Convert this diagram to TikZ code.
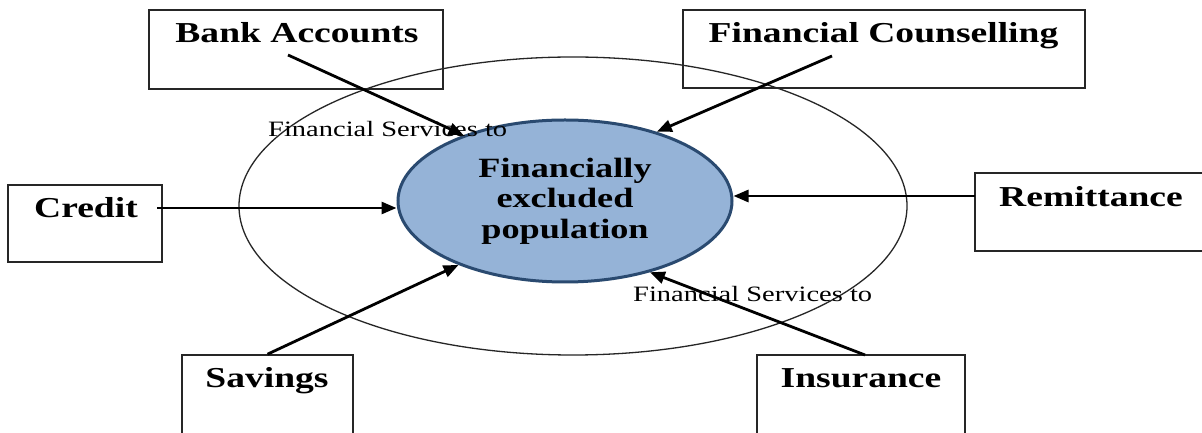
\documentclass[tikz,border=0pt]{standalone}
\usepackage{fontspec}
\setmainfont{Liberation Serif}
\usetikzlibrary{shapes.geometric,arrows.meta}
\definecolor{popfill}{HTML}{95B3D7}
\definecolor{popdraw}{HTML}{2A4A70}
\newcommand{\wstr}[1]{\scalebox{1.3}[1]{#1}}
\begin{document}
\begin{tikzpicture}[x=1bp,y=-1bp,
  box/.style={draw=black!85, line width=1.6bp, inner sep=0, rectangle},
  boxtext/.style={anchor=base, inner sep=0, font=\fontsize{29}{32}\selectfont\bfseries},
  smalllabel/.style={anchor=base west, inner sep=0, font=\fontsize{22}{24}\selectfont},
  arr/.style={line width=2.8bp, -{Triangle[length=15bp,width=12bp]}},
  outerring/.style={draw=black!85, line width=1.3bp, ellipse, inner sep=0},
  popnode/.style={ellipse, draw=popdraw, fill=popfill, line width=3bp, inner sep=0,
    align=center, font=\fontsize{28}{30.5}\selectfont\bfseries}]
\useasboundingbox (0,0) rectangle (1202,433);
\clip (0,0) rectangle (1202,433);
\fill[white] (0,0) rectangle (1202,433);

% outer ring
\node[outerring, minimum width=668bp, minimum height=298bp] (outer) at (573,206) {};

% boxes
\node[box, minimum width=294bp, minimum height=79bp] (bank) at (296,49.5) {};
\node[box, minimum width=402bp, minimum height=78bp] (fc) at (884,49) {};
\node[box, minimum width=154bp, minimum height=77bp] (credit) at (85,223.5) {};
\node[box, minimum width=240bp, minimum height=78bp] (rem) at (1095,212) {};
\node[box, minimum width=171bp, minimum height=90bp] (sav) at (267.5,400) {};
\node[box, minimum width=208bp, minimum height=90bp] (ins) at (861,400) {};

% box texts
\node[boxtext] (bankT) at (297,43) {\wstr{Bank Accounts}};
\node[boxtext] (fcT) at (883.5,43) {\wstr{Financial Counselling}};
\node[boxtext] (creditT) at (86,218) {\wstr{Credit}};
\node[boxtext] (remT) at (1091,207) {\wstr{Remittance}};
\node[boxtext] (savT) at (267,388) {\wstr{Savings}};
\node[boxtext] (insT) at (861,388) {\wstr{Insurance}};

% central node
\node[popnode, minimum width=334bp, minimum height=162bp] (pop) at (565,201)
  {\wstr{Financially}\\\wstr{excluded}\\\wstr{population}};

% labels
\node[smalllabel] (lab1) at (268,137) {\wstr{Financial Services to}};
\node[smalllabel] (lab2) at (633,302) {\wstr{Financial Services to}};

% connector start points
\coordinate (bankS) at (288,55);
\coordinate (fcS) at (832,56);
\coordinate (creditS) at (157,208);
\coordinate (remS) at (975,196);
\coordinate (insS) at (865,355);

% connectors
\draw[arr] (bankS) -- (pop.147);
\draw[arr] (fcS) -- (pop.37);
\draw[arr] (creditS) -- (creditS -| pop.west);
\draw[arr] (remS) -- (remS -| pop.east);
\draw[arr] (sav.north) -- (pop.211);
\draw[arr] (insS) -- (pop.320);
\end{tikzpicture}
\end{document}
